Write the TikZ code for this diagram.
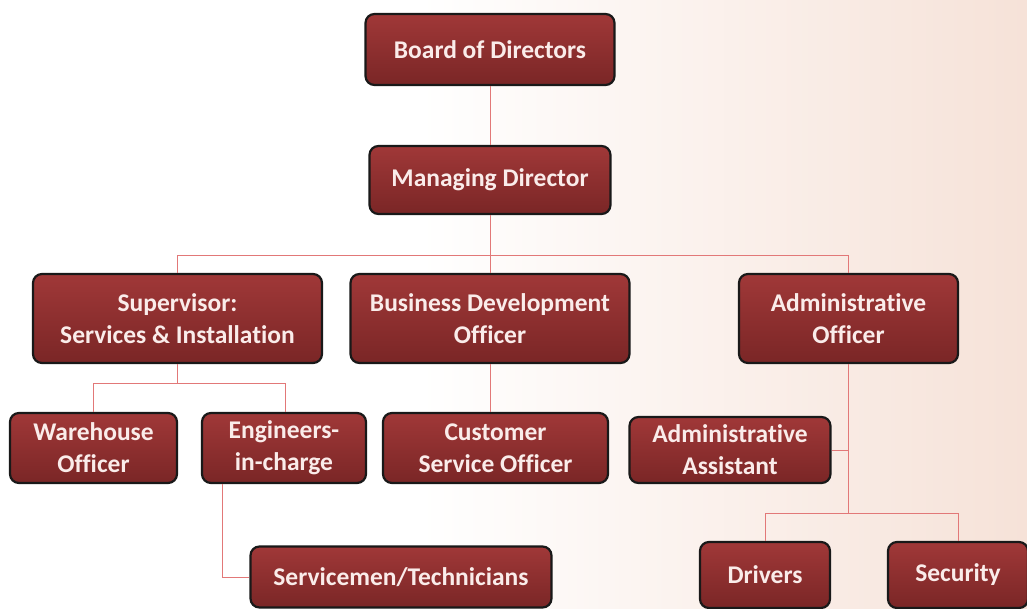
\documentclass[tikz,border=0pt]{standalone}
\usepackage{fontspec}
\setmainfont[Ligatures={NoCommon}]{Carlito}
\definecolor{boxtop}{RGB}{160,56,56}
\definecolor{boxbot}{RGB}{122,38,38}
\definecolor{txt}{RGB}{250,236,234}
\definecolor{link}{RGB}{226,120,120}
\definecolor{bgpink}{RGB}{246,226,216}
\tikzset{
  orgbox/.style={rectangle, rounded corners=9pt, draw=black!90, line width=2.2pt,
    top color=boxtop, bottom color=boxbot, text=txt, align=center, inner sep=0pt,
    font=\fontsize{25.5}{32}\selectfont\bfseries},
  conn/.style={draw=link, line width=1pt}
}
\begin{document}
\begin{tikzpicture}[x=1pt,y=-1pt]
\useasboundingbox (0,0) rectangle (1027,608);
\fill[white] (0,0) rectangle (420,608);
\shade[left color=white, right color=bgpink] (420,0) rectangle (1027,608);

\node[orgbox, minimum width=249pt, minimum height=71pt] (bod) at (490,49.5) {Board of Directors};
\node[orgbox, minimum width=241pt, minimum height=68pt] (md) at (490,180) {Managing Director};
\node[orgbox, minimum width=289pt, minimum height=89pt] (sup) at (177.5,318.5) {Supervisor:\\Services \& Installation};
\node[orgbox, minimum width=279pt, minimum height=89pt] (bdo) at (490,318.5) {Business Development\\Officer};
\node[orgbox, minimum width=219pt, minimum height=89pt] (ao) at (848.5,318.5) {Administrative\\Officer};
\node[orgbox, minimum width=167pt, minimum height=70pt] (wo) at (93.5,448) {Warehouse\\Officer};
\node[orgbox, minimum width=164pt, minimum height=70pt] (eng) at (284,448) {Engineers-\\in-charge};
\node[orgbox, minimum width=225pt, minimum height=70pt] (cso) at (495.5,448) {Customer\\Service Officer};
\node[orgbox, minimum width=201pt, minimum height=66pt] (aa) at (730,450) {Administrative\\Assistant};
\node[orgbox, minimum width=130pt, minimum height=66pt] (drv) at (765,575) {Drivers};
\node[orgbox, minimum width=140pt, minimum height=66pt] (sec) at (958,575) {Security};
\node[orgbox, minimum width=301pt, minimum height=61pt] (svc) at (401,577) {Servicemen/Technicians};

\coordinate (j1) at (490,255);
\coordinate (j2) at (177.5,383);
\coordinate (j3) at (848.5,513);

\path[conn] (bod.south) -- (md.north);
\path[conn] (md.south) -- (j1);
\path[conn] (j1) -| (sup.north);
\path[conn] (j1) -| (ao.north);
\path[conn] (j1) -- (bdo.north);
\path[conn] (sup.south) -- (j2);
\path[conn] (j2) -| (wo.north);
\path[conn] (j2) -| ([xshift=1pt]eng.north);
\path[conn] (bdo.south) -- (bdo.south |- cso.north);
\path[conn] ([xshift=-62pt]eng.south) |- (svc.west);
\path[conn] (ao.south) -- (j3);
\path[conn] (aa.east) -- (aa.east -| ao.south);
\path[conn] (j3) -| (drv.north);
\path[conn] (j3) -| (sec.north);
\end{tikzpicture}
\end{document}
